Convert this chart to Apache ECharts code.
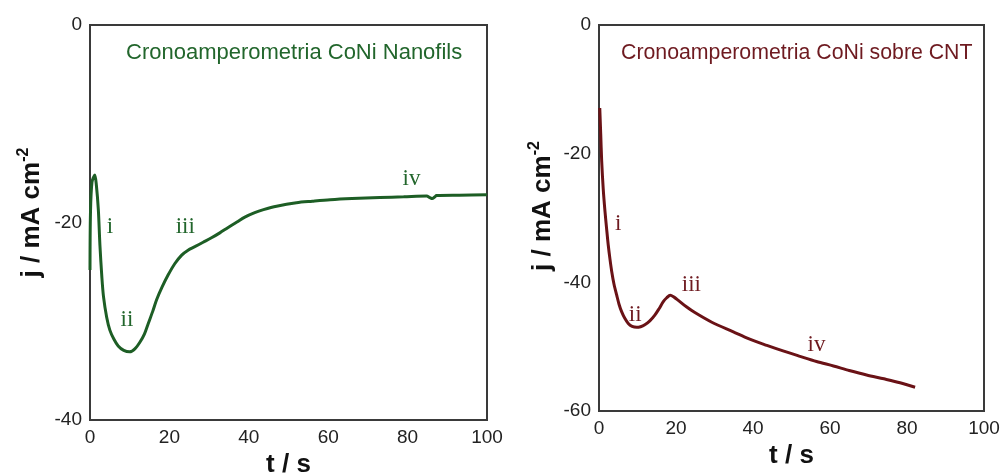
<!DOCTYPE html>
<html>
<head>
<meta charset="utf-8">
<script src="https://cdn.jsdelivr.net/npm/echarts@6/dist/echarts.min.js"></script>
<style>
html,body{margin:0;padding:0;background:#fff;}
#c{width:1003px;height:475px;}
</style>
</head>
<body>
<div id="c"></div>
<script>
// ---- data ----
var xTicksLeft = [0, 20, 40, 60, 80, 100];
var yTicksLeft = [0, -20, -40];
var xTicksRight = [0, 20, 40, 60, 80, 100];
var yTicksRight = [0, -20, -40, -60];

var titleLeft = 'Cronoamperometria CoNi Nanofils';
var titleRight = 'Cronoamperometria CoNi sobre CNT';

// CoNi Nanofils: [t (s), j (mA cm^-2)]
var nanofils = [
  [0,-24.8],[0.12,-19],[0.5,-15.9],[1.2,-15.2],[1.6,-16.2],[2.1,-18.7],[2.5,-22.3],[3.0,-25.6],[3.4,-27.5],
  [4.2,-29.6],[5,-30.9],[6,-31.8],[7.1,-32.5],[8.5,-32.95],[10,-33.1],[11.3,-32.8],[12.6,-32.1],
  [13.7,-31.3],[14.7,-30.2],[15.8,-29.0],[16.8,-27.8],[18.2,-26.5],[19.7,-25.3],[21.3,-24.2],
  [23.1,-23.3],[24.7,-22.8],[26.4,-22.45],[28.5,-22.0],[30.6,-21.55],[32.7,-21.05],[34.8,-20.5],
  [37,-19.95],[39,-19.45],[41.5,-19.0],[43.7,-18.7],[47,-18.35],[52,-18.0],[56,-17.85],[60.5,-17.7],
  [66,-17.58],[73,-17.47],[79,-17.4],[84.8,-17.32],[85.6,-17.48],[86.2,-17.58],[86.8,-17.42],
  [87.3,-17.27],[93,-17.23],[100,-17.2]
];
// CoNi sobre CNT: [t (s), j (mA cm^-2)]
var cnt = [
  [0.2,-12.9],[0.45,-17],[0.7,-21.2],[1.1,-25.5],[1.56,-29.0],[2.0,-31.8],[2.4,-34.2],[2.85,-36.4],
  [3.3,-38.3],[3.9,-40.3],[4.6,-42.0],[5.2,-43.4],[5.9,-44.6],[6.7,-45.6],[7.6,-46.4],[8.6,-46.85],
  [9.8,-47.0],[10.8,-46.9],[11.9,-46.6],[13.2,-46.0],[14.5,-45.1],[15.6,-44.1],[16.7,-43.0],
  [17.6,-42.4],[18.5,-42.0],[19.5,-42.3],[20.6,-42.8],[22.7,-43.8],[24.9,-44.7],[29.3,-46.2],
  [34.9,-47.7],[39,-48.8],[43.6,-49.8],[48,-50.7],[52.2,-51.5],[56.5,-52.3],[60.9,-53.0],[65,-53.7],
  [69.5,-54.4],[74,-55.0],[78.2,-55.6],[82.1,-56.3]
];

// stage annotations: [label, t, j]
var stagesLeft = [['i',5,-20.5],['ii',9.3,-29.9],['iii',24,-20.5],['iv',81,-15.6]];
var stagesRight = [['i',5,-31.0],['ii',9.4,-45.0],['iii',24,-40.4],['iv',56.5,-49.7]];

// ---- chart ----
var greenLine = '#1d5e25', greenText = '#22662c';
var redLine = '#6a1216', redText = '#6e1a20';
var sans = '"Liberation Sans", Arial, sans-serif';
var serif = '"Liberation Serif", "Times New Roman", serif';

function yName() {
  return '{a|j / mA cm}{s|-2}';
}
function xAxis(idx, ticks) {
  return {
    type: 'value', gridIndex: idx, min: ticks[0], max: ticks[ticks.length-1], interval: ticks[1]-ticks[0],
    axisLine: {show: false}, axisTick: {show: false}, splitLine: {show: false},
    axisLabel: {fontFamily: sans, fontSize: 19, color: '#222', margin: 8},
    name: 't / s', nameLocation: 'middle', nameGap: 27,
    nameTextStyle: {fontFamily: sans, fontSize: 26, fontWeight: 'bold', color: '#111'}
  };
}
function yAxis(idx, ticks, gap, shift) {
  return {
    type: 'value', gridIndex: idx, min: ticks[ticks.length-1], max: ticks[0], interval: ticks[0]-ticks[1],
    axisLine: {show: false}, axisTick: {show: false}, splitLine: {show: false},
    axisLabel: {fontFamily: sans, fontSize: 19, color: '#222', margin: 8,
      showMinLabel: true, showMaxLabel: true},
    name: yName(), nameLocation: 'middle', nameGap: gap,
    nameTextStyle: {
      padding: [0, 0, 0, shift],
      rich: {
        a: {fontFamily: sans, fontSize: 26, fontWeight: 'bold', color: '#111', lineHeight: 32},
        s: {fontFamily: sans, fontSize: 16, fontWeight: 'bold', color: '#111', verticalAlign: 'top', lineHeight: 32, padding: [0,0,13,0]}
      }
    }
  };
}
function labelsSeries(stages, xi, color) {
  return {
    type: 'scatter', xAxisIndex: xi, yAxisIndex: xi, symbolSize: 0, silent: true,
    itemStyle: {opacity: 1},
    data: stages.map(function (s) { return {value: [s[1], s[2]], name: s[0]}; }),
    label: {show: true, position: 'inside', formatter: function (p) { return p.name; },
      fontFamily: serif, fontSize: 23, color: color, opacity: 1},
    emphasis: {disabled: true},
    z: 5
  };
}

var chart = echarts.init(document.getElementById('c'), null, {renderer: 'canvas'});
chart.setOption({
  animation: false,
  backgroundColor: '#fff',
  title: [
    {text: titleLeft, left: 121, top: 37, textStyle: {fontFamily: sans, fontSize: 22, fontWeight: 'normal', color: greenText}},
    {text: titleRight, left: 616, top: 38, textStyle: {fontFamily: sans, fontSize: 21.3, fontWeight: 'normal', color: redText}}
  ],
  grid: [
    {left: 90, top: 25, width: 397, height: 395, show: true, borderColor: '#3a3a3a', borderWidth: 2, backgroundColor: 'transparent', outerBoundsMode: 'none', containLabel: false},
    {left: 599, top: 25, width: 385, height: 386, show: true, borderColor: '#3a3a3a', borderWidth: 2, backgroundColor: 'transparent', outerBoundsMode: 'none', containLabel: false}
  ],
  xAxis: [xAxis(0, xTicksLeft), xAxis(1, xTicksRight)],
  yAxis: [yAxis(0, yTicksLeft, 42, 20), yAxis(1, yTicksRight, 40, 24)],
  series: [
    {type: 'line', xAxisIndex: 0, yAxisIndex: 0, data: nanofils, showSymbol: false, smooth: 0.3,
      lineStyle: {color: greenLine, width: 3}, z: 3},
    {type: 'line', xAxisIndex: 1, yAxisIndex: 1, data: cnt, showSymbol: false, smooth: 0.3,
      lineStyle: {color: redLine, width: 3}, z: 3},
    labelsSeries(stagesLeft, 0, greenText),
    labelsSeries(stagesRight, 1, redText)
  ]
});
</script>
</body>
</html>
